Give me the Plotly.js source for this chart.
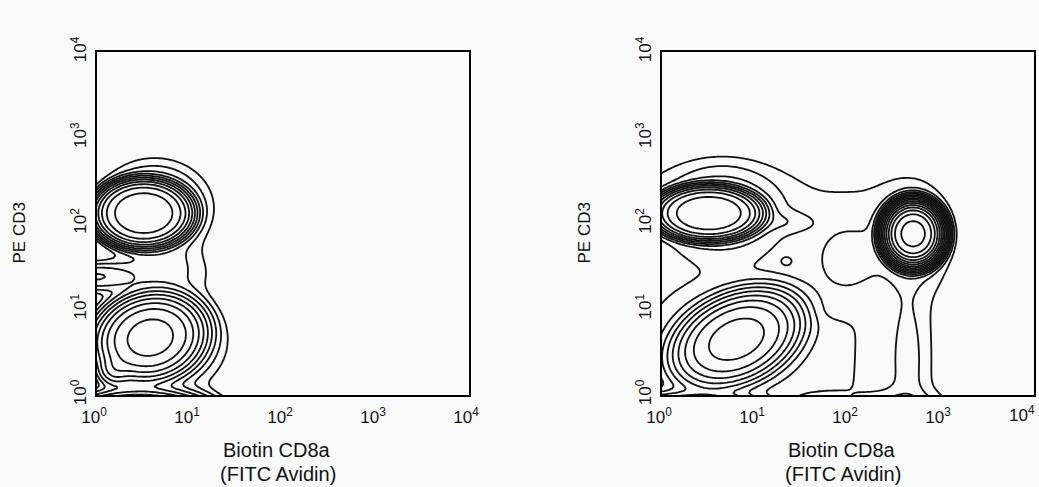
<!DOCTYPE html>
<html>
<head>
<meta charset="utf-8">
<script src="https://cdn.plot.ly/plotly-3.0.1.min.js"></script>
<style>
html,body{margin:0;padding:0;background:#f9fafa;}
#chart{width:1039px;height:487px;}
</style>
</head>
<body>
<div id="chart"></div>
<script>
// Axis ticks (decades) and labels
const tickValues = [1, 10, 100, 1000, 10000];
const tickLabels = ['10<sup>0</sup>', '10<sup>1</sup>', '10<sup>2</sup>', '10<sup>3</sup>', '10<sup>4</sup>'];
const xTitleLines = ['Biotin CD8a', '(FITC Avidin)'];
const yTitle = 'PE CD3';

// Cell populations, positions in decades (log10 of fluorescence)
// Left panel (control)
const leftNames   = ['CD3+ core', 'CD3+ halo', 'CD3- core', 'CD3- halo', 'axis island', 'low-left spot', 'bottom pile-up', 'right bridge'];
const leftCentreX = [0.50, 0.62, 0.57, 0.70, -0.05, 0.18, 0.45, 0.80];
const leftCentreY = [2.12, 2.18, 0.67, 0.60, 1.38, 0.28, -0.35, 1.45];
const leftSpreadX = [0.36, 0.36, 0.36, 0.45, 0.30, 0.10, 0.35, 0.35];
const leftSpreadY = [0.27, 0.33, 0.30, 0.40, 0.10, 0.10, 0.15, 0.20];
const leftTilt    = [0, 0, 20, 0, 0, 0, 0, 0];
const leftPeak    = [1.6, 0.06, 0.9, 0.04, 0.05, 0.15, 3.0, 0.015];
const leftNorm    = [2, 2, 2, 2, 2, 2, 2, 2];
const leftProfile = [4, 2, 3, 2, 2, 2, 2, 2];

// Right panel (CD8a stained)
const rightNames   = ['CD3+ core', 'CD3+ halo', 'halo spur', 'CD8+ core', 'CD8+ halo', 'CD8+ tail', 'tail base',
                      'CD3- core', 'CD3- halo', 'bottom pile-up', 'background', 'middle skirt', 'middle island', 'tiny island'];
const rightCentreX = [0.50, 0.65, 1.30, 2.70, 2.70, 2.65, 2.50, 0.80, 0.70, 0.30, 1.22, 1.50, 2.00, 1.34];
const rightCentreY = [2.12, 2.15, 2.02, 1.88, 1.85, 0.40, -0.25, 0.65, 0.65, -0.35, 1.00, 0.45, 1.60, 1.56];
const rightSpreadX = [0.40, 0.35, 0.22, 0.18, 0.22, 0.13, 0.30, 0.45, 0.50, 0.40, 1.85, 0.60, 0.26, 0.035];
const rightSpreadY = [0.22, 0.30, 0.08, 0.21, 0.32, 0.60, 0.15, 0.30, 0.40, 0.14, 1.69, 0.40, 0.30, 0.03];
const rightTilt    = [0, 0, 0, 0, 0, 0, 0, 30, 0, 0, 0, 0, 0, 0];
const rightPeak    = [1.6, 0.05, 0.012, 15, 0.03, 0.012, 0.05, 0.9, 0.03, 2.0, 0.014, 0.008, 0.01, 0.012];
const rightNorm    = [2, 2, 2, 2, 2, 2, 2, 2, 2, 2, 6, 6, 2, 2];
const rightProfile = [4, 2, 2, 3, 2, 2, 2, 3, 2, 2, 6, 6, 2, 2];

// Contour levels (log10 density)
const levelStart = -1.9, levelEnd = 1.5, levelStep = 0.2;

function buildGrid(cx, cy, sx, sy, tilt, peak, norm, prof) {
  const us = [], vs = [];
  for (let k = 0; k <= 184; k++) { us.push(-0.6 + k * 0.025); vs.push(-0.6 + k * 0.025); }
  const z = vs.map(v => us.map(u => {
    let s = 0;
    for (let i = 0; i < cx.length; i++) {
      const t = tilt[i] * Math.PI / 180, c = Math.cos(t), sn = Math.sin(t);
      const du = u - cx[i], dv = v - cy[i];
      const a = (du * c + dv * sn) / sx[i], b = (-du * sn + dv * c) / sy[i];
      const q = Math.pow(Math.abs(a), norm[i]) + Math.pow(Math.abs(b), norm[i]);
      s += peak[i] * Math.exp(-0.5 * Math.pow(q, prof[i] / norm[i]));
    }
    return Math.log10(s + 1e-7);
  }));
  return {x: us.map(u => Math.pow(10, u)), y: vs.map(v => Math.pow(10, v)), z: z};
}

const gL = buildGrid(leftCentreX, leftCentreY, leftSpreadX, leftSpreadY, leftTilt, leftPeak, leftNorm, leftProfile);
const gR = buildGrid(rightCentreX, rightCentreY, rightSpreadX, rightSpreadY, rightTilt, rightPeak, rightNorm, rightProfile);

function contourTrace(g, xa, ya) {
  return {
    type: 'contour', x: g.x, y: g.y, z: g.z, xaxis: xa, yaxis: ya,
    autocontour: false,
    contours: {start: levelStart, end: levelEnd, size: levelStep, coloring: 'none'},
    line: {color: '#111', width: 1.8, smoothing: 0},
    showscale: false, hoverinfo: 'skip'
  };
}

const FONT = 'Liberation Sans, Arial, sans-serif';
function xAxis(dom, anchor, labels) {
  return {domain: dom, anchor: anchor, type: 'log', range: [0, 4], tickvals: tickValues, ticktext: labels,
    showgrid: false, zeroline: false, showline: true, mirror: true, linecolor: '#000', linewidth: 2,
    ticks: '', ticklabelstandoff: 6, ticklabelshift: -3, ticklabeloverflow: 'allow',
    tickfont: {family: FONT, size: 17, color: '#111'}, fixedrange: true};
}
function yAxis(dom, anchor) {
  return {domain: dom, anchor: anchor, type: 'log', range: [0, 4], tickvals: tickValues, ticktext: tickLabels,
    showgrid: false, zeroline: false, showline: true, mirror: true, linecolor: '#000', linewidth: 2,
    ticks: '', tickangle: -90, ticklabelstandoff: 2, ticklabeloverflow: 'allow',
    tickfont: {family: FONT, size: 17, color: '#111'}, fixedrange: true};
}

const W = 1039, H = 487;
const yDom = [(H - 395) / H, (H - 52) / H];
// the last label of the right panel would run past the page edge: draw it just inside, as the reference does
const rightXLabels = tickLabels.slice(0, 4).concat(['']);
const annotations = [{xref: 'paper', yref: 'paper', x: 1022 / W, y: (H - 414) / H, text: tickLabels[4],
  showarrow: false, xanchor: 'center', yanchor: 'middle', font: {family: FONT, size: 17, color: '#111'}}];
[0, 565].forEach(off => {
  annotations.push({xref: 'paper', yref: 'paper', x: (18.5 + off) / W, y: (H - 233) / H, text: yTitle, textangle: -90,
    showarrow: false, xanchor: 'center', yanchor: 'middle', font: {family: FONT, size: 17, color: '#111'}});
  annotations.push({xref: 'paper', yref: 'paper', x: (277 + off) / W, y: (H - 450) / H, text: xTitleLines[0],
    showarrow: false, xanchor: 'center', yanchor: 'middle', font: {family: FONT, size: 20, color: '#111'}});
  annotations.push({xref: 'paper', yref: 'paper', x: (277.5 + off) / W, y: (H - 474) / H, text: xTitleLines[1],
    showarrow: false, xanchor: 'center', yanchor: 'middle', font: {family: FONT, size: 20, color: '#111'}});
});

const layout = {
  width: W, height: H, margin: {l: 0, r: 0, t: 0, b: 0},
  paper_bgcolor: '#f9fafa', plot_bgcolor: '#f9fafa', showlegend: false,
  xaxis: xAxis([97 / W, 469 / W], 'y', tickLabels), yaxis: yAxis(yDom, 'x'),
  xaxis2: xAxis([662 / W, 1034 / W], 'y2', rightXLabels), yaxis2: yAxis(yDom, 'x2'),
  annotations: annotations
};

Plotly.newPlot('chart', [contourTrace(gL, 'x', 'y'), contourTrace(gR, 'x2', 'y2')], layout, {staticPlot: true});
</script>
</body>
</html>
